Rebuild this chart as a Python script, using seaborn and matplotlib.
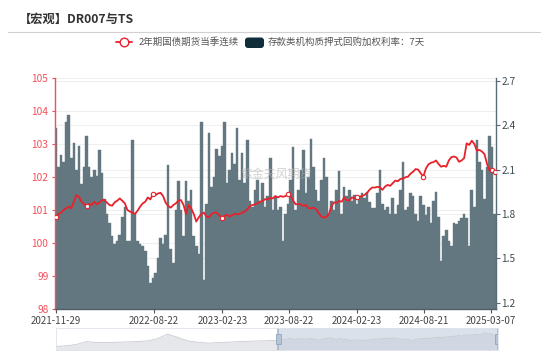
import numpy as np
import matplotlib
matplotlib.use("Agg")
import matplotlib.pyplot as plt
from matplotlib.lines import Line2D
from matplotlib.patches import FancyBboxPatch, Rectangle
from matplotlib.transforms import IdentityTransform
import seaborn as sns

# ---- data (weekly readings, 2021-11-29 .. 2025-03) ----
dr007 = [
    2.38, 2.12, 2.20, 2.15, 2.42, 2.47, 2.18, 2.28, 2.10, 2.26, 2.00, 2.12, 2.33, 2.12, 2.05, 2.10,
    2.06, 2.23, 2.08, 1.90, 1.80, 1.74, 1.65, 1.60, 1.62, 1.66, 1.78, 1.85, 1.62, 1.62, 2.30, 1.80,
    1.62, 1.60, 1.58, 1.55, 1.45, 1.33, 1.37, 1.40, 1.50, 1.64, 1.60, 1.66,
    2.13, 1.56, 1.47, 1.83, 2.02, 1.83, 1.65, 2.02, 1.89, 1.96, 1.65, 1.58, 1.53, 2.42, 1.35, 1.87,
    2.35, 1.98, 2.05, 2.24, 2.19, 2.26, 2.42, 2.01, 2.10, 2.21, 2.14, 2.38, 2.03, 2.21, 2.01, 2.30,
    1.89, 1.85, 1.96, 2.03, 1.89, 2.01, 1.85, 1.92, 2.18, 1.83, 1.92,
    1.83, 1.85, 1.62, 1.80, 1.87, 2.03, 2.25, 1.83, 1.96, 2.10, 2.23, 1.94, 2.05, 2.31, 2.12, 1.96,
    1.89, 2.03, 2.18, 2.05, 1.80, 1.89, 1.83, 1.96, 2.09, 1.80, 1.98, 1.92, 1.96, 1.89, 1.93, 1.87,
    1.92, 1.94, 1.91, 1.95, 1.88, 1.84, 1.84, 1.94, 2.10, 1.87, 1.83,
    1.85, 1.80, 1.91, 1.80, 1.86, 1.96, 2.15, 1.83, 1.85, 1.94, 1.92, 1.80, 1.75, 1.92, 1.86, 1.79,
    1.85, 1.74, 1.89, 1.95, 1.78, 1.48, 1.65, 1.69, 1.62, 1.58, 1.74, 1.73, 1.75, 1.77, 1.80, 1.77,
    1.58, 1.96, 1.85, 2.30, 2.15, 2.10, 1.90, 2.12, 2.33, 2.25, 1.80,
]
ts = [
    100.81, 100.89, 100.93, 101.01, 101.06, 101.11, 101.06, 101.26, 101.46, 101.41, 101.26, 101.19,
    101.14, 101.19, 101.16, 101.26, 101.18, 101.23, 101.31, 101.31, 101.23, 101.16, 101.14, 101.24,
    101.29, 101.36, 101.29, 101.21, 101.01, 100.96, 100.93, 100.89, 100.99, 101.11, 101.21, 101.26,
    101.39, 101.33, 101.49, 101.46, 101.51, 101.53, 101.43, 101.23,
    101.13, 101.08, 101.16, 101.21, 101.29, 101.31, 101.16, 100.89, 101.16, 101.06, 100.89, 100.66,
    100.79, 100.89, 100.93, 100.81, 100.79, 100.89, 100.93, 100.93, 100.85, 100.77, 100.83, 100.87,
    100.81, 100.85, 100.89, 100.88, 100.89, 100.93, 100.96, 101.03, 101.13, 101.16, 101.18, 101.21,
    101.26, 101.28, 101.34, 101.33, 101.38, 101.36, 101.43,
    101.39, 101.43, 101.41, 101.43, 101.48, 101.43, 101.29, 101.18, 101.19, 101.18, 101.13, 101.16,
    101.06, 101.06, 101.08, 101.03, 100.91, 100.81, 100.78, 100.79, 100.89, 101.13, 101.24, 101.23,
    101.28, 101.26, 101.39, 101.30, 101.30, 101.39, 101.36, 101.39, 101.41, 101.43, 101.47, 101.53,
    101.63, 101.69, 101.69, 101.71, 101.70, 101.62, 101.72,
    101.77, 101.74, 101.82, 101.90, 101.88, 101.95, 101.96, 102.00, 102.02, 102.11, 102.17, 102.25,
    102.23, 102.12, 102.02, 102.26, 102.39, 102.44, 102.46, 102.51, 102.40, 102.32, 102.35, 102.32,
    102.51, 102.61, 102.63, 102.60, 102.47, 102.51, 102.58, 103.03, 102.98, 103.11, 103.01, 102.81,
    102.83, 102.78, 102.70, 102.40, 102.20, 102.22, 102.15,
]
# earlier TS history shown only in the zoom slider (every 8 weeks before 2021-11-29)
ts_history = [98.9, 99.1, 99.5, 100.4, 100.1, 100.1, 100.2, 100.3, 100.4, 100.6, 101.3,
              102.7, 101.7, 100.6, 100.2, 99.9, 100.1, 100.2, 100.4, 100.5, 100.6, 100.7]
tick_labels = ["2021-11-29", "2022-08-22", "2023-02-23", "2023-08-22",
               "2024-02-23", "2024-08-21", "2025-03-07"]
tick_pos = [0, 38.3, 65.2, 91.4, 117.9, 144.2, 170.6]
symbol_idx = [0, 12, 38, 65, 91, 118, 144, 171, 172]

name_ts = "2年期国债期货当季连续"
name_dr = "存款类机构质押式回购加权利率：7天"

RED = "#e8212b"
RED_AX = "#f0505b"
BAR = "#637780"
DARK = "#0f2d3a"
GRID = "#efefef"

sns.set_theme(style="white")
plt.rcParams['font.family'] = ['Noto Sans CJK SC', 'DejaVu Sans']
plt.rcParams['axes.unicode_minus'] = False

W, H = 550, 356
fig = plt.figure(figsize=(W / 100, H / 100), dpi=100)
ax = fig.add_axes([54.7 / W, 1 - 309.3 / H, (496 - 54.7) / W, (309.3 - 78.3) / H])
ax2 = ax.twinx()
ax.set_zorder(2)
ax2.set_zorder(1)
ax.patch.set_visible(False)

idx = np.arange(len(dr007))

# bars (right axis)
sns.barplot(x=idx, y=dr007, ax=ax2, color=BAR, width=1.0, saturation=1,
            native_scale=True, linewidth=0.3, edgecolor=BAR, zorder=2)
ax2.set_ylim(1.155, 2.718)
ax2.set_yticks([1.2, 1.5, 1.8, 2.1, 2.4, 2.7])
ax2.set_yticklabels(["1.2", "1.5", "1.8", "2.1", "2.4", "2.7"])
ax2.yaxis.grid(True, color=GRID, lw=0.8)
ax2.set_axisbelow(True)
for lv in range(98, 106):
    f = (lv - 98) / 7
    ax2.plot([0, 1], [f, f], transform=ax2.transAxes, color=GRID, lw=0.8, zorder=0)

# TS line (left axis)
sns.lineplot(x=idx, y=ts, ax=ax, color=RED, linewidth=1.3)
sns.scatterplot(x=[idx[k] for k in symbol_idx], y=[ts[k] for k in symbol_idx], ax=ax,
                s=10, facecolor="white", edgecolor=RED, linewidth=0.8, zorder=5)
ax.set_ylim(98, 105)
ax.set_yticks(range(98, 106))
ax.set_xlim(-0.5, len(dr007) - 0.5)
ax.set_xticks(tick_pos)
ax.set_xticklabels(tick_labels)
ax.set_xlabel("")
ax.set_ylabel("")
ax2.set_ylabel("")

ax.tick_params(axis="y", colors=RED_AX, labelsize=7.3, length=2.5, width=0.8, pad=2,
               left=True)
ax.tick_params(axis="x", colors="#555555", labelcolor="#444444", labelsize=7,
               length=3, width=0.8, pad=1.5, bottom=True)
ax2.tick_params(axis="y", colors="#5b6d74", labelcolor="#3d4b52", labelsize=7.3,
                length=3, width=0.8, pad=1, right=True)

for s in ["top", "right"]:
    ax.spines[s].set_visible(False)
ax.spines["left"].set_color(RED_AX)
ax.spines["left"].set_linewidth(1.0)
ax.spines["bottom"].set_color("#505f66")
ax.spines["bottom"].set_linewidth(1.0)
for s in ["top", "left", "bottom"]:
    ax2.spines[s].set_visible(False)
ax2.spines["right"].set_color("#5b6d74")
ax2.spines["right"].set_linewidth(1.0)

# header
fig.text(19 / W, 1 - 19.5 / H, "【宏观】DR007与TS", fontsize=8.8, fontweight="bold",
         color="#333333", ha="left", va="center")
fig.add_artist(Line2D([7.6 / W, 540 / W], [1 - 32.3 / H] * 2, color="#d0d0d0", lw=0.8))

# legend
ly = 1 - 42.4 / H
fig.add_artist(Line2D([116 / W, 132 / W], [ly, ly], color=RED, lw=1.3))
fig.add_artist(Line2D([124 / W], [ly], marker="o", ms=6.2, mfc="white", mec=RED, mew=1.0))
fig.text(139 / W, ly, name_ts, fontsize=6.8, color="#555555", ha="left", va="center")
fig.add_artist(FancyBboxPatch((245, H - 48), 19, 10.5, boxstyle="round,pad=0,rounding_size=3",
                              transform=IdentityTransform(), facecolor=DARK, edgecolor="none"))
fig.text(268 / W, ly, name_dr, fontsize=6.8, color="#555555", ha="left", va="center")

# watermark
fig.text(276 / W, 1 - 174 / H, "紫金天风期货", fontsize=8.6, color="#b5b5b5", alpha=0.6,
         ha="center", va="center")

# zoom slider at the bottom
axs = fig.add_axes([56 / W, 1 - 350.3 / H, (497.7 - 56) / W, 22.3 / H])
hist_x = np.arange(-8 * len(ts_history), 0, 8)
all_x = np.concatenate([hist_x, idx])
all_y = np.concatenate([ts_history, ts])
axs.set_xlim(hist_x[0], len(ts) - 0.5)
axs.set_ylim(97.7, 104.6)
axs.fill_between(all_x, 97.7, all_y, color="#e6e7ea", lw=0)
axs.plot(all_x, all_y, color="#c8cbd0", lw=0.6)
axs.axvspan(-0.5, len(ts) - 0.5, color="#bfcadc", alpha=0.55, lw=0)
tr = axs.get_xaxis_transform()
for hx in [-0.5, len(ts) - 0.5]:
    axs.plot([hx, hx], [0, 1], transform=tr, color="#a2b3cc", lw=1.1)
    axs.add_patch(Rectangle((hx - 1.8, 0.3), 3.6, 0.42, transform=tr,
                            facecolor="#b7c4d8", edgecolor="#93a5c0", lw=0.6, zorder=5))
axs.set_xticks([])
axs.set_yticks([])
for s in axs.spines.values():
    s.set_color("#dfe3ea")
    s.set_linewidth(0.6)

fig.savefig("out.png", dpi=100)
